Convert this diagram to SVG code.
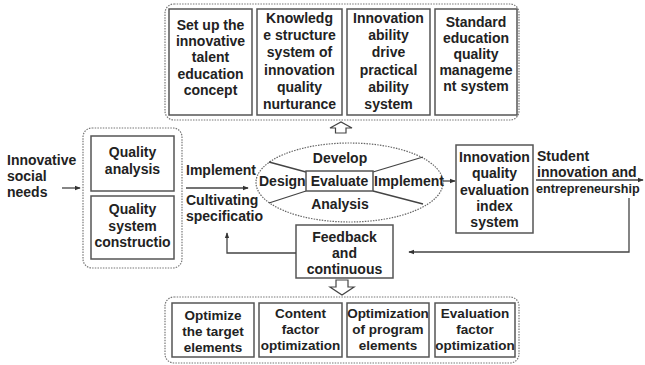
<svg xmlns="http://www.w3.org/2000/svg" width="645" height="365" viewBox="0 0 645 365">
<style>
.bg{fill:#fff}
.box{fill:#fff;stroke:#555;stroke-width:1.5}
.grp{fill:none;stroke:#777;stroke-width:1.2;stroke-dasharray:1.5 1.2}
.t{font-family:"Liberation Sans",Arial,sans-serif;font-weight:bold;font-size:14px;fill:#222;text-anchor:middle}
.ts{font-size:13.5px}
.l{text-anchor:start}
.ln{fill:none;stroke:#444;stroke-width:1.3}
.hol{fill:#fff;stroke:#444;stroke-width:1.2}
</style>
<defs>
<marker id="ah" viewBox="0 0 8 8" refX="7" refY="4" markerWidth="6" markerHeight="6" orient="auto" markerUnits="userSpaceOnUse">
<path d="M0,1 L8,4 L0,7 z" fill="#333"/>
</marker>
</defs>
<rect class="bg" width="645" height="365"/>

<g id="top-group">
<rect class="grp" x="165" y="4" width="354" height="116" rx="9"/>
<g id="n-concept"><rect class="box" x="169" y="9" width="83" height="106"/>
<text class="t" x="210.5" y="30"><tspan x="210.5">Set up the</tspan><tspan x="210.5" dy="16.2">innovative</tspan><tspan x="210.5" dy="16.2">talent</tspan><tspan x="210.5" dy="16.2">education</tspan><tspan x="210.5" dy="16.2">concept</tspan></text></g>
<g id="n-knowledge"><rect class="box" x="257" y="9" width="85" height="106"/>
<text class="t" x="299.5" y="23"><tspan x="299.5">Knowledg</tspan><tspan x="299.5" dy="17.2">e structure</tspan><tspan x="299.5" dy="17.2">system of</tspan><tspan x="299.5" dy="17.2">innovation</tspan><tspan x="299.5" dy="17.2">quality</tspan><tspan x="299.5" dy="17.2">nurturance</tspan></text></g>
<g id="n-ability"><rect class="box" x="347" y="9" width="83" height="106"/>
<text class="t" x="388.5" y="23"><tspan x="388.5">Innovation</tspan><tspan x="388.5" dy="17.2">ability</tspan><tspan x="388.5" dy="17.2">drive</tspan><tspan x="388.5" dy="17.2">practical</tspan><tspan x="388.5" dy="17.2">ability</tspan><tspan x="388.5" dy="17.2">system</tspan></text></g>
<g id="n-standard"><rect class="box" x="435" y="9" width="82" height="106"/>
<text class="t" x="476" y="26.5"><tspan x="476">Standard</tspan><tspan x="476" dy="16.2">education</tspan><tspan x="476" dy="16.2">quality</tspan><tspan x="476" dy="16.2">manageme</tspan><tspan x="476" dy="16.2">nt system</tspan></text></g>
</g>

<g id="n-social"><text class="t l" x="7" y="165"><tspan x="7">Innovative</tspan><tspan x="7" dy="16">social</tspan><tspan x="7" dy="16">needs</tspan></text></g>

<g id="left-group">
<rect class="grp" x="83" y="128" width="99" height="140" rx="9"/>
<g id="n-qanalysis"><rect class="box" x="91" y="136" width="83" height="55"/>
<text class="t" x="132.5" y="157"><tspan x="132.5">Quality</tspan><tspan x="132.5" dy="16.5">analysis</tspan></text></g>
<g id="n-qsystem"><rect class="box" x="91" y="196" width="83" height="63"/>
<text class="t" x="132.5" y="214"><tspan x="132.5">Quality</tspan><tspan x="132.5" dy="16.5">system</tspan><tspan x="132.5" dy="16.5">constructio</tspan></text></g>
</g>

<g id="n-cycle">
<ellipse cx="349.5" cy="182.5" rx="93.5" ry="39.5" fill="#fff" stroke="#666" stroke-width="1.2" stroke-dasharray="1.5 1.2"/>
<path class="ln" d="M269,162 L306,172 M269,203 L306,191 M373,172 L423,157 M373,191 L423,204" stroke-width="1.1"/>
<rect class="box" x="306" y="171" width="67" height="20"/>
<text class="t" x="339.5" y="186">Evaluate</text>
<text class="t l" x="259" y="186">Design</text>
<text class="t l" x="374" y="186">Implement</text>
<text class="t" x="340" y="163">Develop</text>
<text class="t" x="340" y="209">Analysis</text>
</g>

<g id="n-index"><rect class="box" x="456" y="145" width="77" height="88"/>
<text class="t" x="494.5" y="162"><tspan x="494.5">Innovation</tspan><tspan x="494.5" dy="16.3">quality</tspan><tspan x="494.5" dy="16.3">evaluation</tspan><tspan x="494.5" dy="16.3">index</tspan><tspan x="494.5" dy="16.3">system</tspan></text></g>

<g id="n-student"><text class="t l" x="537" y="161"><tspan x="537">Student</tspan><tspan x="537" dy="16">innovation and</tspan></text>
<text class="t l" x="536" y="193" style="font-size:12.6px">entrepreneurship</text></g>

<g id="n-feedback"><rect class="box" x="296" y="225" width="97" height="53"/>
<text class="t" x="344.5" y="242"><tspan x="344.5">Feedback</tspan><tspan x="344.5" dy="16">and</tspan><tspan x="344.5" dy="16">continuous</tspan></text></g>

<g id="bottom-group">
<rect class="grp" x="165" y="297" width="354" height="66" rx="9"/>
<g id="n-target"><rect class="box" x="172" y="303" width="82" height="54"/>
<text class="t ts" x="213" y="320"><tspan x="213">Optimize</tspan><tspan x="213" dy="16">the target</tspan><tspan x="213" dy="16">elements</tspan></text></g>
<g id="n-content"><rect class="box" x="259" y="303" width="83" height="54"/>
<text class="t ts" x="300.5" y="318"><tspan x="300.5">Content</tspan><tspan x="300.5" dy="16">factor</tspan><tspan x="300.5" dy="16">optimization</tspan></text></g>
<g id="n-program"><rect class="box" x="347" y="303" width="82" height="54"/>
<text class="t ts" x="388" y="318"><tspan x="388">Optimization</tspan><tspan x="388" dy="16">of program</tspan><tspan x="388" dy="16">elements</tspan></text></g>
<g id="n-evalfactor"><rect class="box" x="435" y="303" width="80" height="54"/>
<text class="t ts" x="475" y="318"><tspan x="475">Evaluation</tspan><tspan x="475" dy="16">factor</tspan><tspan x="475" dy="16">optimization</tspan></text></g>
</g>

<g id="connectors">
<line class="ln" x1="62" y1="188" x2="80" y2="188" marker-end="url(#ah)"/>
<line class="ln" x1="186" y1="188" x2="248" y2="188" marker-end="url(#ah)"/>
<text class="t l" x="186" y="175">Implement</text>
<text class="t l" x="186" y="205"><tspan x="186">Cultivating</tspan><tspan x="186" dy="16">specificatio</tspan></text>
<line class="ln" x1="443" y1="181" x2="455" y2="181" marker-end="url(#ah)"/>
<line class="ln" x1="536" y1="180" x2="643" y2="180" marker-end="url(#ah)"/>
<polyline class="ln" points="629,198 629,252 409,252" marker-end="url(#ah)"/>
<polyline class="ln" points="296,253 227,253 227,233" marker-end="url(#ah)"/>
<polygon class="hol" points="335.5,133 335.5,128 330,128 341,122 352,128 346,128 346,133"/>
<polygon class="hol" points="336,280 348,280 348,287 354,287 342,295 330,287 336,287"/>
</g>
</svg>
